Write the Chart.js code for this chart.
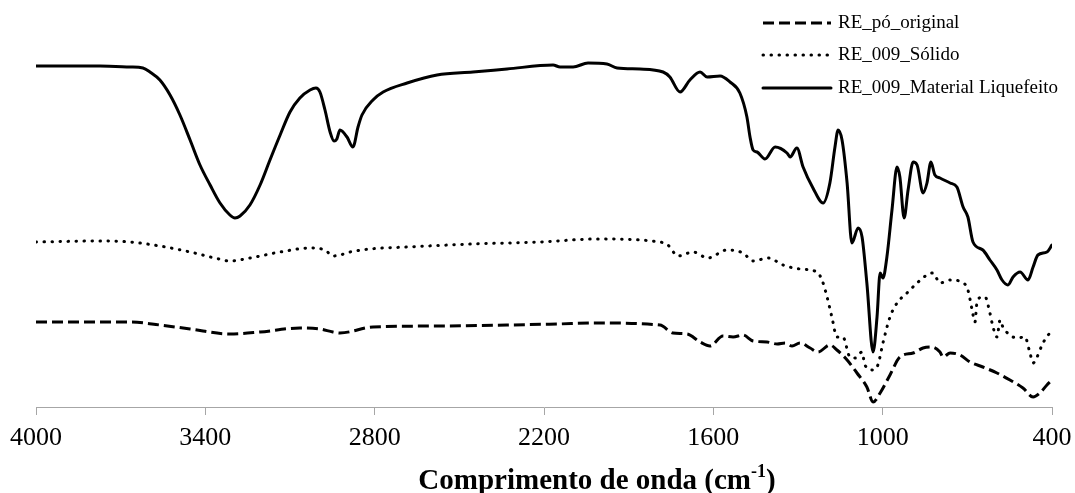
<!DOCTYPE html>
<html lang="pt">
<head>
<meta charset="utf-8">
<title>Espectros FTIR</title>
<script src="https://cdn.jsdelivr.net/npm/chart.js@4/dist/chart.umd.min.js"></script>
<style>
  html, body { margin: 0; padding: 0; background: #fff; }
  #wrap { width: 1075px; height: 493px; position: relative; }
</style>
</head>
<body>
<div id="wrap"><canvas id="ftir"></canvas></div>
<script>
// Número de onda (cm-1) e intensidade relativa (a.u., curvas deslocadas)
const poWave = [4000, 3773, 3667, 3561, 3454, 3313, 3206, 3065, 2994, 2948, 2923, 2806, 2569, 2331, 2154, 2012,
  1789, 1743, 1693, 1647, 1612, 1566, 1530, 1495, 1459, 1410, 1374, 1346, 1321, 1293, 1257, 1229, 1187, 1162,
  1126, 1091, 1056, 1034, 1009, 974, 939, 892, 857, 825, 797, 786, 761, 726, 691, 645, 595, 549, 503, 467,
  443, 418, 400];
const poValues = [85, 85, 85, 82, 78, 73, 75, 79, 78, 75, 74, 80, 81, 82, 83, 84,
  82, 74, 73, 65, 61, 71, 70, 72, 66, 65, 63, 64, 61, 64, 59, 55, 62, 57,
  47, 34, 20, 5, 14, 32, 50, 54, 59, 60, 55, 50, 54, 52, 45, 40, 34, 27, 19, 10,
  14, 22, 27];

const solidoWave = [4000, 3773, 3667, 3561, 3454, 3366, 3313, 3242, 3135, 3029, 2976, 2948, 2923, 2887, 2817,
  2685, 2452, 2214, 2012, 1789, 1761, 1725, 1672, 1619, 1552, 1495, 1459, 1406, 1353, 1293, 1233, 1215,
  1197, 1180, 1162, 1141, 1116, 1098, 1073, 1063, 1034, 1017, 999, 974, 949, 914, 878, 843, 822, 797,
  761, 719, 698, 683, 673, 666, 648, 637, 620, 609, 595, 584, 574, 549, 524, 496, 478, 467, 453, 432, 400];
const solidoValues = [165, 166, 165, 161, 155, 149, 146, 149, 155, 159, 157, 151, 152, 155, 158,
  160, 163, 165, 168, 165, 162, 151, 155, 149, 157, 154, 146, 149, 142, 138, 135, 127,
  110, 90, 70, 70, 50, 49, 55, 42, 37, 42, 64, 90, 104, 114, 124, 132, 134, 124,
  127, 125, 117, 97, 85, 104, 110, 110, 94, 80, 70, 87, 80, 72, 69, 70, 54, 44, 50, 64, 77];

const liqWave = [4000, 3773, 3667, 3621, 3596, 3561, 3525, 3490, 3454, 3419, 3383, 3348, 3313, 3295, 3277,
  3242, 3206, 3171, 3135, 3100, 3065, 3029, 3008, 2994, 2976, 2958, 2944, 2934, 2923, 2898, 2877, 2859,
  2845, 2806, 2770, 2685, 2579, 2452, 2331, 2168, 2143, 2097, 2044, 1977, 1941, 1860, 1778, 1754, 1718,
  1683, 1647, 1622, 1576, 1541, 1506, 1481, 1470, 1459, 1445, 1417, 1381, 1339, 1328, 1304, 1282, 1247,
  1211, 1187, 1169, 1158, 1144, 1126, 1109, 1087, 1073, 1056, 1034, 1020, 1009, 999, 985, 967, 949, 939,
  924, 910, 892, 878, 857, 843, 829, 815, 797, 761, 737, 715, 698, 680, 645, 620, 595, 577, 556, 538,
  513, 485, 467, 450, 418, 400];
const liqValues = [341, 341, 340, 339, 335, 327, 312, 292, 267, 242, 222, 204, 192, 189, 191,
  202, 222, 247, 272, 295, 309, 317, 319, 315, 297, 275, 266, 268, 277, 270, 260, 280,
  292, 307, 315, 324, 332, 335, 338, 342, 340, 340, 344, 343, 339, 338, 335, 330, 315,
  327, 335, 330, 331, 325, 314, 290, 270, 257, 255, 248, 260, 254, 250, 259, 240, 219,
  204, 224, 260, 277, 267, 224, 164, 179, 170, 124, 55, 90, 134, 129, 150, 197, 240, 230,
  189, 217, 245, 242, 214, 224, 245, 232, 229, 224, 220, 200, 190, 165, 157, 147, 137, 127, 122, 130,
  135, 127, 140, 152, 155, 162];

const seriesNames = ["RE_pó_original", "RE_009_Sólido", "RE_009_Material Liquefeito"];
const xTicks = [4000, 3400, 2800, 2200, 1600, 1000, 400];

const serif = "'Liberation Serif', 'Times New Roman', serif";

function toPoints(xs, ys) {
  return xs.map((x, i) => ({ x: x, y: ys[i] }));
}

// Legenda desenhada à mão no canto superior direito
const legendBox = {
  id: "legendBox",
  afterDraw(chart) {
    const ctx = chart.ctx;
    const rows = [23, 55, 88];
    ctx.save();
    chart.data.datasets.forEach((ds, i) => {
      const y = rows[i];
      ctx.strokeStyle = ds.borderColor;
      ctx.lineWidth = ds.borderWidth;
      ctx.lineCap = ds.borderCapStyle || "butt";
      ctx.setLineDash(ds.borderDash || []);
      ctx.beginPath();
      ctx.moveTo(763, y);
      ctx.lineTo(831, y);
      ctx.stroke();
      ctx.setLineDash([]);
      ctx.fillStyle = "#000";
      ctx.font = "19px " + serif;
      ctx.textBaseline = "middle";
      ctx.textAlign = "left";
      ctx.fillText(ds.label, 838, y);
    });
    ctx.restore();
  },
};

// Título do eixo x com expoente
const axisTitle = {
  id: "axisTitle",
  afterDraw(chart) {
    const ctx = chart.ctx;
    const big = "bold 29px " + serif;
    const small = "bold 18px " + serif;
    const parts = [
      { t: "Comprimento de onda (cm", f: big, dy: 0 },
      { t: "-1", f: small, dy: -12 },
      { t: ")", f: big, dy: 0 },
    ];
    ctx.save();
    let total = 0;
    parts.forEach((p) => {
      ctx.font = p.f;
      p.w = ctx.measureText(p.t).width;
      total += p.w;
    });
    let x = 597 - total / 2;
    const base = 489;
    ctx.fillStyle = "#000";
    ctx.textBaseline = "alphabetic";
    ctx.textAlign = "left";
    parts.forEach((p) => {
      ctx.font = p.f;
      ctx.fillText(p.t, x, base + p.dy);
      x += p.w;
    });
    ctx.restore();
  },
};

new Chart(document.getElementById("ftir"), {
  type: "line",
  data: {
    datasets: [
      {
        label: seriesNames[0],
        data: toPoints(poWave, poValues),
        borderColor: "#000",
        borderWidth: 3,
        borderDash: [11, 5],
        borderCapStyle: "butt",
      },
      {
        label: seriesNames[1],
        data: toPoints(solidoWave, solidoValues),
        borderColor: "#000",
        borderWidth: 3,
        borderDash: [0.5, 7.5],
        borderCapStyle: "round",
      },
      {
        label: seriesNames[2],
        data: toPoints(liqWave, liqValues),
        borderColor: "#000",
        borderWidth: 3,
        borderCapStyle: "round",
      },
    ],
  },
  options: {
    responsive: true,
    maintainAspectRatio: false,
    animation: false,
    parsing: false,
    layout: { padding: { left: 36, right: 23, top: 7, bottom: 0 } },
    elements: {
      point: { radius: 0 },
      line: { cubicInterpolationMode: "monotone", borderJoinStyle: "round" },
    },
    plugins: {
      legend: { display: false },
      tooltip: { enabled: false },
    },
    scales: {
      x: {
        type: "linear",
        reverse: true,
        min: 400,
        max: 4000,
        afterBuildTicks(scale) {
          scale.ticks = xTicks.map((v) => ({ value: v }));
        },
        // eixo com altura fixa; a folga dos rótulos vem do padding do layout
        afterFit(scale) {
          scale.height = 86;
          scale.paddingLeft = 0;
          scale.paddingRight = 0;
        },
        grid: {
          drawOnChartArea: false,
          drawTicks: true,
          tickLength: 8,
          color: "#a6a6a6",
        },
        border: { color: "#a6a6a6", width: 1 },
        ticks: {
          color: "#000",
          padding: 8,
          maxRotation: 0,
          font: { family: serif, size: 26 },
          callback: (v) => String(v),
        },
      },
      y: {
        display: false,
        min: 0,
        max: 400,
      },
    },
  },
  plugins: [legendBox, axisTitle],
});
</script>
</body>
</html>
